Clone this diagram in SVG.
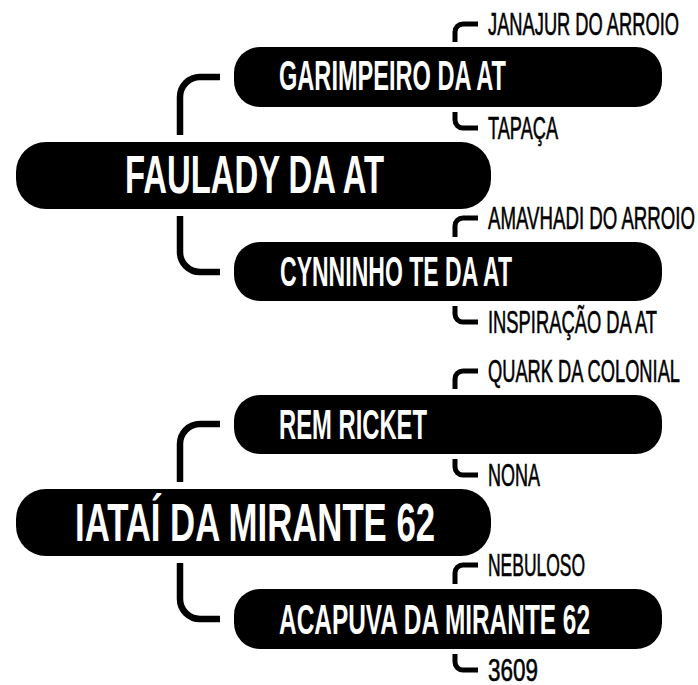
<svg xmlns="http://www.w3.org/2000/svg" width="698" height="685" viewBox="0 0 698 685">
<style>
.box{fill:#000}
.big{font-family:"Liberation Sans Narrow","Liberation Sans",Arial,sans-serif;font-weight:bold;fill:#fff;font-size:42px}
.huge{font-family:"Liberation Sans Narrow","Liberation Sans",Arial,sans-serif;font-weight:bold;fill:#fff;font-size:53px}
.small{font-family:"Liberation Sans Narrow","Liberation Sans",Arial,sans-serif;fill:#000;stroke:#000;stroke-width:0.6;font-size:32px}
.main{fill:none;stroke:#000;stroke-width:6.5}
.br{fill:none;stroke:#000;stroke-width:5}
</style>
<rect width="698" height="685" fill="#fff"/>
<g id="connectors">
<path class="main" d="M180 135 V97 A20 20 0 0 1 200 77 H220"/>
<path class="main" d="M180 216 V252 A20 20 0 0 0 200 272 H220"/>
<path class="main" d="M180 482 V444 A20 20 0 0 1 200 424 H220"/>
<path class="main" d="M180 563 V599 A20 20 0 0 0 200 619 H220"/>
<path class="br" d="M455 42 V32 A8 8 0 0 1 463 24 H478"/>
<path class="br" d="M455 112 V120 A8 8 0 0 0 463 128 H478"/>
<path class="br" d="M455 237 V226 A8 8 0 0 1 463 218 H478"/>
<path class="br" d="M455 306 V314 A8 8 0 0 0 463 322 H478"/>
<path class="br" d="M455 389 V379 A8 8 0 0 1 463 371 H478"/>
<path class="br" d="M455 459 V467 A8 8 0 0 0 463 475 H478"/>
<path class="br" d="M455 584 V573 A8 8 0 0 1 463 565 H478"/>
<path class="br" d="M455 654 V662 A8 8 0 0 0 463 670 H478"/>
</g>
<g id="faulady">
<rect class="box" x="16" y="142" width="475" height="67" rx="30"/>
<text class="huge" x="125" y="193" textLength="259" lengthAdjust="spacingAndGlyphs">FAULADY DA AT</text>
</g>
<g id="garimpeiro">
<rect class="box" x="234" y="47" width="428" height="60" rx="26"/>
<text class="big" x="279" y="90" textLength="227" lengthAdjust="spacingAndGlyphs">GARIMPEIRO DA AT</text>
</g>
<g id="cynninho">
<rect class="box" x="234" y="242" width="428" height="59" rx="26"/>
<text class="big" x="280" y="286" textLength="232" lengthAdjust="spacingAndGlyphs">CYNNINHO TE DA AT</text>
</g>
<g id="janajur"><text class="small" x="488" y="35" textLength="191" lengthAdjust="spacingAndGlyphs">JANAJUR DO ARROIO</text></g>
<g id="tapaca"><text class="small" x="488" y="139" textLength="70" lengthAdjust="spacingAndGlyphs">TAPAÇA</text></g>
<g id="amavhadi"><text class="small" x="488" y="229" textLength="207" lengthAdjust="spacingAndGlyphs">AMAVHADI DO ARROIO</text></g>
<g id="inspiracao"><text class="small" x="488" y="333" textLength="169" lengthAdjust="spacingAndGlyphs">INSPIRAÇÃO DA AT</text></g>
<g id="iatai">
<rect class="box" x="16" y="489" width="475" height="67" rx="30"/>
<text class="huge" x="75" y="541" textLength="360" lengthAdjust="spacingAndGlyphs">IATAÍ DA MIRANTE 62</text>
</g>
<g id="remricket">
<rect class="box" x="234" y="395" width="428" height="59" rx="26"/>
<text class="big" x="279" y="439" textLength="148" lengthAdjust="spacingAndGlyphs">REM RICKET</text>
</g>
<g id="acapuva">
<rect class="box" x="234" y="589" width="428" height="60" rx="26"/>
<text class="big" x="279" y="634" textLength="311" lengthAdjust="spacingAndGlyphs">ACAPUVA DA MIRANTE 62</text>
</g>
<g id="quark"><text class="small" x="488" y="382" textLength="192" lengthAdjust="spacingAndGlyphs">QUARK DA COLONIAL</text></g>
<g id="nona"><text class="small" x="488" y="486" textLength="52" lengthAdjust="spacingAndGlyphs">NONA</text></g>
<g id="nebuloso"><text class="small" x="488" y="576" textLength="97" lengthAdjust="spacingAndGlyphs">NEBULOSO</text></g>
<g id="n3609"><text class="small" x="488" y="681" textLength="50" lengthAdjust="spacingAndGlyphs">3609</text></g>
</svg>
